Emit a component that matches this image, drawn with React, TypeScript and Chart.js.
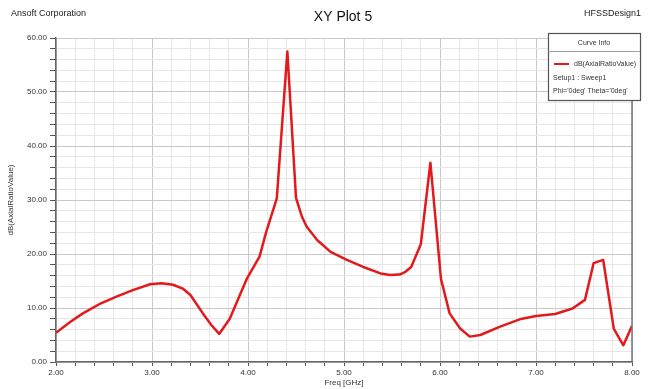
import React, { useEffect, useRef } from "react";
import { Chart, registerables } from "chart.js";

Chart.register(...registerables);

const freqGHz = [2.0, 2.14, 2.28, 2.45, 2.63, 2.8, 2.98, 3.1, 3.22, 3.32, 3.4, 3.53, 3.62, 3.7, 3.81, 3.99, 4.12, 4.19, 4.3, 4.41, 4.5, 4.56, 4.61, 4.72, 4.86, 5.03, 5.2, 5.38, 5.48, 5.58, 5.64, 5.7, 5.8, 5.9, 6.01, 6.1, 6.21, 6.31, 6.42, 6.62, 6.83, 7.0, 7.2, 7.38, 7.51, 7.6, 7.7, 7.81, 7.91, 8.0];
const axialRatioDb = [5.4, 7.3, 9.0, 10.7, 12.1, 13.3, 14.4, 14.6, 14.3, 13.6, 12.4, 9.0, 6.8, 5.2, 8.0, 15.5, 19.5, 24.1, 30.3, 57.5, 30.4, 27.0, 25.1, 22.6, 20.4, 18.9, 17.6, 16.4, 16.1, 16.2, 16.7, 17.6, 21.8, 36.9, 15.4, 9.0, 6.2, 4.7, 5.0, 6.5, 7.9, 8.5, 8.9, 9.9, 11.5, 18.3, 18.9, 6.2, 3.1, 6.7];

const chartTitle = "XY Plot 5";
const leftCaption = "Ansoft Corporation";
const rightCaption = "HFSSDesign1";
const xAxisTitle = "Freq [GHz]";
const yAxisTitle = "dB(AxialRatioValue)";
const legendHeader = "Curve Info";
const legendLines = ["dB(AxialRatioValue)", "Setup1 : Sweep1", "Phi='0deg' Theta='0deg'"];

const FONT = "'Liberation Sans Narrow', 'Liberation Sans', Arial, sans-serif";
const isMajor = (v: number, step: number) => Math.abs(v / step - Math.round(v / step)) < 1e-6;

const decorPlugin = {
  id: "decor",
  afterDraw(chart: any) {
    const ctx = chart.ctx as CanvasRenderingContext2D;
    const area = chart.chartArea;
    ctx.save();
    ctx.fillStyle = "#222";
    ctx.textBaseline = "middle";
    ctx.font = `9px ${FONT}`;
    ctx.textAlign = "left";
    ctx.fillText(leftCaption, 11, 14);
    ctx.textAlign = "right";
    ctx.fillText(rightCaption, 641, 14);
    ctx.font = `14px ${FONT}`;
    ctx.textAlign = "center";
    ctx.fillStyle = "#111";
    ctx.fillText(chartTitle, 343, 17);
    ctx.font = `8px ${FONT}`;
    ctx.fillStyle = "#333";
    ctx.fillText(xAxisTitle, 344, 383);
    ctx.save();
    ctx.translate(11, 200);
    ctx.rotate(-Math.PI / 2);
    ctx.fillText(yAxisTitle, 0, 0);
    ctx.restore();

    ctx.strokeStyle = "#777";
    ctx.lineWidth = 1.5;
    ctx.beginPath();
    ctx.moveTo(area.right, area.top);
    ctx.lineTo(area.right, area.bottom);
    ctx.stroke();

    const bx = 548, by = 33, bw = 92, bh = 67;
    ctx.fillStyle = "#fff";
    ctx.fillRect(bx, by, bw, bh);
    ctx.strokeStyle = "#555";
    ctx.lineWidth = 1.2;
    ctx.strokeRect(bx + 0.5, by + 0.5, bw, bh);
    ctx.strokeStyle = "#888";
    ctx.lineWidth = 0.8;
    ctx.beginPath();
    ctx.moveTo(bx, by + 18.5);
    ctx.lineTo(bx + bw, by + 18.5);
    ctx.stroke();
    ctx.fillStyle = "#333";
    ctx.font = `7px ${FONT}`;
    ctx.textAlign = "center";
    ctx.fillText(legendHeader, bx + bw / 2, by + 10);
    ctx.strokeStyle = "#e31a1c";
    ctx.lineWidth = 2;
    ctx.beginPath();
    ctx.moveTo(bx + 6, by + 31);
    ctx.lineTo(bx + 21, by + 31);
    ctx.stroke();
    ctx.textAlign = "left";
    ctx.fillText(legendLines[0], bx + 26, by + 31);
    ctx.fillText(legendLines[1], bx + 5, by + 45);
    ctx.fillText(legendLines[2], bx + 5, by + 58);
    ctx.restore();
  },
};

export default function App() {
  const ref = useRef<HTMLCanvasElement>(null);
  useEffect(() => {
    const canvas = ref.current;
    if (!canvas) return;
    const points = freqGHz.map((f, i) => ({ x: f, y: axialRatioDb[i] }));
    const chart = new Chart(canvas, {
      type: "line",
      data: {
        datasets: [
          {
            data: points,
            borderColor: "#e31a1c",
            borderWidth: 2.5,
            borderJoinStyle: "round",
            pointRadius: 0,
            tension: 0,
            fill: false,
          },
        ],
      },
      options: {
        animation: false,
        responsive: false,
        maintainAspectRatio: false,
        layout: { padding: { left: 0, top: 38, right: 17, bottom: 0 } },
        plugins: { legend: { display: false }, tooltip: { enabled: false }, title: { display: false } },
        scales: {
          x: {
            type: "linear",
            min: 2,
            max: 8,
            afterFit: (s: any) => { s.height = 27; },
            border: { color: "#666", width: 1.5 },
            grid: {
              color: (c: any) => (isMajor(c.tick.value, 1) ? "#c8c8c8" : "#e6e6e6"),
              tickColor: "#555",
              tickLength: 4,
              lineWidth: 1,
            },
            ticks: {
              stepSize: 0.2,
              autoSkip: false,
              maxRotation: 0,
              padding: 2,
              color: "#333",
              font: { family: FONT, size: 8 },
              callback: (v: any) => (isMajor(Number(v), 1) ? Number(v).toFixed(2) : ""),
            },
          },
          y: {
            type: "linear",
            min: 0,
            max: 60,
            afterFit: (s: any) => { s.width = 56; },
            border: { color: "#666", width: 1.5 },
            grid: {
              color: (c: any) => (isMajor(c.tick.value, 10) ? "#c8c8c8" : "#e6e6e6"),
              tickColor: "#555",
              tickLength: 6,
              lineWidth: 1,
            },
            ticks: {
              stepSize: 2,
              autoSkip: false,
              padding: 3,
              color: "#333",
              font: { family: FONT, size: 8 },
              callback: (v: any) => (isMajor(Number(v), 10) ? Number(v).toFixed(2) : ""),
            },
          },
        },
      },
      plugins: [decorPlugin],
    });
    return () => chart.destroy();
  }, []);
  return (
    <div style={{ position: "fixed", left: 0, top: 0, width: 649, height: 389, background: "#fff" }}>
      <canvas ref={ref} width={649} height={389} style={{ width: 649, height: 389, display: "block" }} />
    </div>
  );
}
